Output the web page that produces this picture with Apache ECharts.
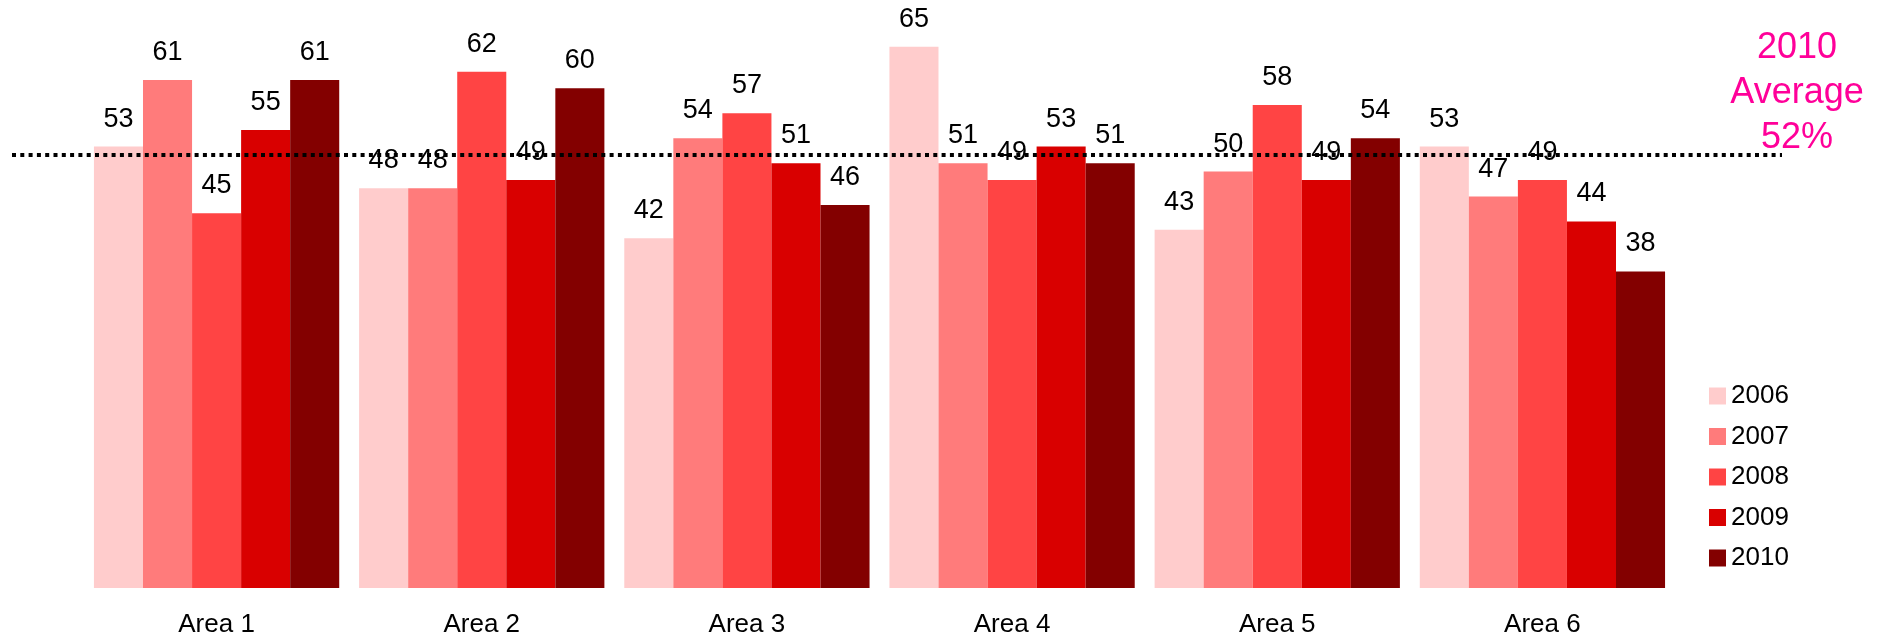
<!DOCTYPE html>
<html>
<head>
<meta charset="utf-8">
<script src="https://cdn.jsdelivr.net/npm/echarts@6/dist/echarts.min.js"></script>
<style>
  html, body { margin: 0; padding: 0; background: #ffffff; }
  #chart { width: 1885px; height: 638px; }
</style>
</head>
<body>
<div id="chart"></div>
<script>
// ---- data ----
const categories = ['Area 1', 'Area 2', 'Area 3', 'Area 4', 'Area 5', 'Area 6'];
const years = ['2006', '2007', '2008', '2009', '2010'];
const values2006 = [53, 48, 42, 65, 43, 53];
const values2007 = [61, 48, 54, 51, 50, 47];
const values2008 = [45, 62, 57, 49, 58, 49];
const values2009 = [55, 49, 51, 53, 49, 44];
const values2010 = [61, 60, 46, 51, 54, 38];
const averageYear = '2010';
const averageValue = 52;
const colors = ['#FFCCCC', '#FF7B7B', '#FF4444', '#D90000', '#830000'];

const allValues = [values2006, values2007, values2008, values2009, values2010];
const FONT = '"Liberation Sans", Arial, sans-serif';

const chart = echarts.init(document.getElementById('chart'), null, { renderer: 'canvas' });

const barSeries = years.map((y, i) => ({
  name: y,
  type: 'bar',
  xAxisIndex: 0,
  yAxisIndex: 0,
  data: allValues[i],
  itemStyle: { color: colors[i] },
  barGap: '0%',
  barCategoryGap: '7.5%',
  label: {
    show: true,
    position: 'top',
    distance: 14,
    color: '#000',
    fontFamily: FONT,
    fontSize: 27
  },
  emphasis: { disabled: true },
  animation: false
}));

const option = {
  animation: false,
  backgroundColor: '#ffffff',
  textStyle: { fontFamily: FONT },
  grid: [
    { left: 84, right: 210, top: 5, bottom: 50 },
    { left: 12, right: 103, top: 5, bottom: 50 }
  ],
  xAxis: [
    {
      type: 'category',
      gridIndex: 0,
      data: categories,
      axisLine: { show: false },
      axisTick: { show: false },
      axisLabel: { color: '#000', fontFamily: FONT, fontSize: 26, margin: 24 }
    },
    { type: 'value', gridIndex: 1, min: 0, max: 1, show: false }
  ],
  yAxis: [
    { type: 'value', gridIndex: 0, min: 0, max: 70, show: false, splitLine: { show: false } },
    { type: 'value', gridIndex: 1, min: 0, max: 70, show: false, splitLine: { show: false } }
  ],
  legend: {
    orient: 'vertical',
    left: 1704,
    top: 378,
    itemWidth: 17,
    itemHeight: 17,
    itemGap: 14.5,
    icon: 'rect',
    textStyle: { color: '#000', fontFamily: FONT, fontSize: 26 },
    data: years
  },
  graphic: [
    {
      type: 'text',
      x: 1797,
      y: 26,
      style: {
        text: averageYear + '\nAverage\n' + averageValue + '%',
        align: 'center',
        verticalAlign: 'top',
        fill: '#FF0099',
        fontFamily: FONT,
        fontSize: 36,
        lineHeight: 45
      }
    }
  ],
  series: barSeries.concat([
    {
      name: 'average',
      type: 'line',
      xAxisIndex: 1,
      yAxisIndex: 1,
      data: [[0, averageValue], [1, averageValue]],
      symbol: 'none',
      lineStyle: { color: '#000', width: 4, type: [4, 4.3], cap: 'butt' },
      z: 5,
      silent: true,
      animation: false
    }
  ])
};

chart.setOption(option);
</script>
</body>
</html>
